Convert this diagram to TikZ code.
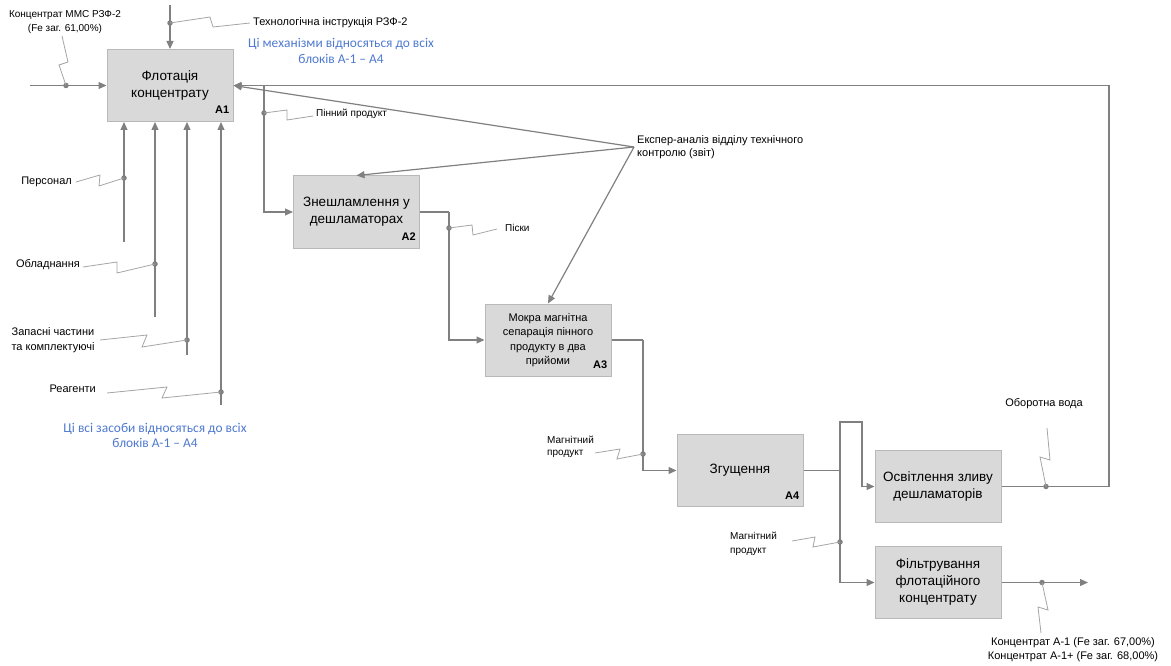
\documentclass[tikz,border=0pt]{standalone}
\usepackage{fontspec}
\setmainfont{Liberation Sans}
\newfontfamily\notefont{Carlito}
\usepackage{tikz}
\usetikzlibrary{arrows.meta}
\usetikzlibrary{calc}
\usetikzlibrary{positioning}
\definecolor{lineGray}{RGB}{128,128,128}
\definecolor{leadGray}{RGB}{165,165,165}
\definecolor{boxFill}{RGB}{217,217,217}
\definecolor{boxLine}{RGB}{185,185,185}
\definecolor{noteBlue}{RGB}{78,121,208}
\tikzset{>={Triangle[length=8pt,width=7pt]}}

\begin{document}
\begin{tikzpicture}[
        x=1pt, y=-1pt,
        func/.style={draw=boxLine,line width=1pt,fill=boxFill,minimum width=126pt,minimum height=72pt,
            inner sep=0pt,align=center,font=\fontsize{13.5}{17}\selectfont},
        idlbl/.style={anchor=base east,inner sep=0pt,font=\fontsize{11}{13}\selectfont\bfseries},
        flow/.style={draw=lineGray,line width=1.2pt},
        leader/.style={draw=leadGray,line width=0.8pt},
        dot/.style={circle,fill=lineGray,inner sep=0pt,minimum size=5.5pt},
        lbl/.style={inner sep=0pt,font=\fontsize{11}{13.5}\selectfont},
        smalllbl/.style={inner sep=0pt,font=\fontsize{10}{12.5}\selectfont},
        note/.style={inner sep=0pt,align=center,text=noteBlue,font=\notefont\fontsize{13.4}{16}\selectfont}
    ]
    \useasboundingbox (0,0) rectangle (1171,666);

    % function blocks
    \node[func] (A1) at (170,85.5) {Флотація\\концентрату};
    \node[func] (A2) at (356.5,212) {Знешламлення у\\дешламаторах};
    \node[func,font=\fontsize{11}{14.5}\selectfont] (A3) at (548,340) {Мокра магнітна\\сепарація пінного\\продукту в два\\прийоми};
    \node[func] (A4) at (740,470.5) {Згущення};
    \node[func] (B5) at (938,486.5) {Освітлення зливу\\дешламаторів};
    \node[func] (B6) at (938,582.5) {Фільтрування\\флотаційного\\концентрату};

    \node[idlbl] at ($(A1.south east)+(-4,-8)$) {A1};
    \node[idlbl] at ($(A2.south east)+(-4,-8)$) {A2};
    \node[idlbl] at ($(A3.south east)+(-4,-8)$) {A3};
    \node[idlbl] at ($(A4.south east)+(-4,-8)$) {A4};

    % free ends and bends
    \coordinate (in1) at (30,85.5);
    \coordinate (ctl1) at (170,5);
    \coordinate (ret) at (1109,85.5);
    \coordinate (br1) at (264,85.5);
    \coordinate (br2) at (449,212);
    \coordinate (br3) at (643,340);
    \coordinate (sp) at (840,470.5);
    \coordinate (up1) at (840,422);
    \coordinate (up2) at (862,422);
    \coordinate (out6) at (1088,582.5);
    \coordinate (exp) at (634,147);
    \coordinate (m1) at (124,242);
    \coordinate (m2) at (155,317);
    \coordinate (m3) at (187,355);
    \coordinate (m4) at (221,405);

    % arrows
    \draw[flow,->] (in1) -- (A1.west);
    \draw[flow,->] (ctl1) -- (A1.north);
    \foreach \m in {m1,m2,m3,m4}
        \draw[flow,->] (\m) -- (\m |- A1.south);
    \draw[flow,->] (B5.east) -| (ret) -- (A1.east);
    \draw[flow,->] (br1) |- (A2.west);
    \draw[flow] (A2.east) -- (br2);
    \draw[flow,->] (br2) |- (A3.west);
    \draw[flow] (A3.east) -- (br3);
    \draw[flow,->] (br3) |- (A4.west);
    \draw[flow] (A4.east) -- (sp);
    \draw[flow,->] (sp) -- (up1) -- (up2) |- (B5.west);
    \draw[flow,->] (sp) |- (B6.west);
    \draw[flow,->] (B6.east) -- (out6);
    \draw[flow,->] (exp) -- (A1.east);
    \draw[flow,->] (exp) -- (A2.north);
    \draw[flow,->] (exp) -- (A3.north);

    % labels
    \node[lbl,anchor=west] (tTech) at (253,23) {Технологічна інструкція РЗФ-2};
    \node[smalllbl,align=center,font=\fontsize{10}{14}\selectfont] (tIn) at (65,22) {Концентрат ММС РЗФ-2\\(Fe заг. 61,00\%)};
    \node[smalllbl,anchor=west] (tFoam) at (316,114) {Пінний продукт};
    \node[lbl,anchor=east] (tStaff) at (72,182) {Персонал};
    \node[lbl,anchor=east] (tEquip) at (80,265) {Обладнання};
    \node[lbl,align=center,font=\fontsize{11}{15}\selectfont] (tParts) at (53,340.5) {Запасні частини\\та комплектуючі};
    \node[lbl,anchor=east] (tReag) at (96,389) {Реагенти};
    \node[lbl,anchor=west,align=left,font=\fontsize{11}{12.7}\selectfont] (tExp) at (637,147) {Експер-аналіз відділу технічного\\контролю (звіт)};
    \node[smalllbl,anchor=west] (tSand) at (505,228) {Піски};
    \node[smalllbl,anchor=west,align=left,font=\fontsize{10}{12}\selectfont] (tMag1) at (547,447) {Магнітний\\продукт};
    \node[smalllbl,anchor=west,align=left,font=\fontsize{10}{14}\selectfont] (tMag2) at (730,544) {Магнітний\\продукт};
    \node[lbl] (tWater) at (1044,404) {Оборотна вода};
    \node[lbl,align=center,font=\fontsize{11}{14}\selectfont] (tOut) at (1073,650) {Концентрат А-1 (Fe заг. 67,00\%)\\Концентрат А-1+ (Fe заг. 68,00\%)};
    \node[note] (nTop) at (341,51) {Ці механізми відносяться до всіх\\блоків А-1 – А4};
    \node[note,font=\notefont\fontsize{13.4}{15}\selectfont] (nBot) at (155,435.5) {Ці всі засоби відносяться до всіх\\блоків А-1 – А4};

    % dots on the arrows
    \node[dot] (dTech) at (170,23) {};
    \node[dot] (dIn) at (66,85.5) {};
    \node[dot] (dFoam) at (264,113) {};
    \node[dot] (dStaff) at (124,178) {};
    \node[dot] (dEquip) at (155,264) {};
    \node[dot] (dParts) at (187,340) {};
    \node[dot] (dReag) at (221,392) {};
    \node[dot] (dSand) at (449,228) {};
    \node[dot] (dMag1) at (643,454) {};
    \node[dot] (dMag2) at (840,542) {};
    \node[dot] (dWater) at (1046,486.5) {};
    \node[dot] (dOut) at (1042,582.5) {};

    % squiggles
    \draw[leader] (dTech.center) -- (210,17) -- (213,27) -- (250,23);
    \draw[leader] (dIn.center) -- (59,65) -- (68,62) -- (62,36);
    \draw[leader] (dFoam.center) -- (287,110) -- (287,120) -- (313,116);
    \draw[leader] (dStaff.center) -- (99,186) -- (100,175) -- (76,182);
    \draw[leader] (dEquip.center) -- (117,273) -- (117,262) -- (83,267);
    \draw[leader] (dParts.center) -- (142,347) -- (147,335) -- (100,340);
    \draw[leader] (dReag.center) -- (162,398) -- (167,387) -- (107,393);
    \draw[leader] (dSand.center) -- (472,225) -- (473,235) -- (497,229);
    \draw[leader] (dMag1.center) -- (617,459) -- (620,449) -- (595,453);
    \draw[leader] (dMag2.center) -- (813,547) -- (815,537) -- (792,541);
    \draw[leader] (dWater.center) -- (1040,457) -- (1050,460) -- (1047,428);
    \draw[leader] (dOut.center) -- (1048,610) -- (1038,607) -- (1041,633);
\end{tikzpicture}
\end{document}
